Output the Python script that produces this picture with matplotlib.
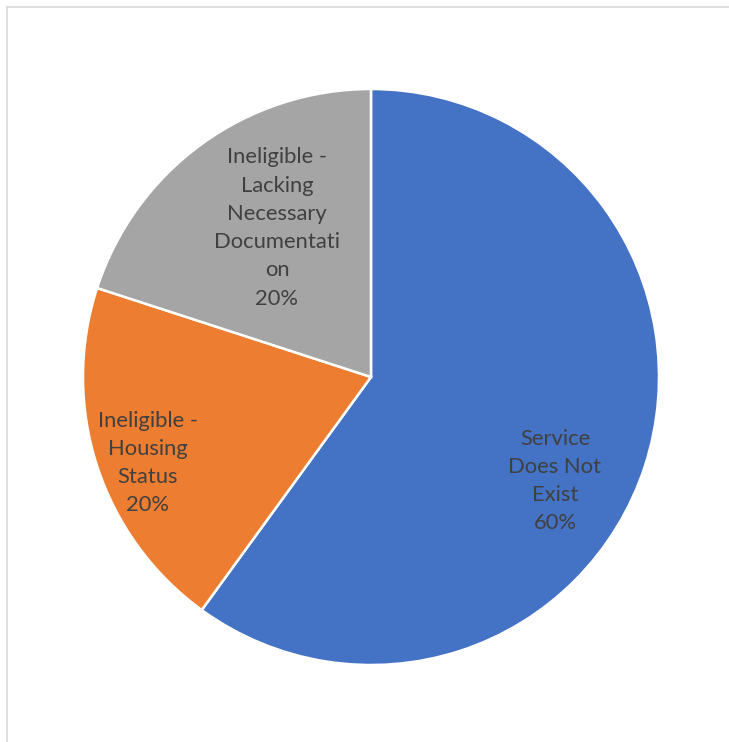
import matplotlib
matplotlib.use("Agg")
import matplotlib.pyplot as plt
from matplotlib.lines import Line2D

categories = ["Service\nDoes Not\nExist", "Ineligible -\nHousing\nStatus",
              "Ineligible -\nLacking\nNecessary\nDocumentati\non"]
values = [60, 20, 20]
colors = ["#4472C4", "#ED7D31", "#A5A5A5"]
# label centres in pixel coords (x, y from top)
label_pos = [(555, 481), (148, 463), (277, 228)]

W, H = 729, 742
fig = plt.figure(figsize=(W / 100, H / 100), dpi=100)
ax = fig.add_axes([0, 0, 1, 1])
cx, cy, r = 371, 377, 288
ax.pie(values, colors=colors, startangle=90, counterclock=False,
       center=(cx, H - cy), radius=r,
       wedgeprops=dict(edgecolor="white", linewidth=1.8))
ax.set_xlim(0, W)
ax.set_ylim(0, H)
ax.set_aspect("auto")
ax.axis("off")

total = sum(values)
for cat, v, (px, py) in zip(categories, values, label_pos):
    ax.text(px, H - py, f"{cat}\n{round(100 * v / total)}%", ha="center", va="center",
            fontsize=15.8, family=["Lato", "DejaVu Sans"], color="#404040",
            linespacing=1.52)

# outer border (top and left visible)
fig.add_artist(Line2D([6.5 / W, 1], [1 - 6.5 / H, 1 - 6.5 / H], transform=fig.transFigure,
                      color="#D9D9D9", lw=1.2))
fig.add_artist(Line2D([6.5 / W, 6.5 / W], [0, 1 - 6.5 / H], transform=fig.transFigure,
                      color="#D9D9D9", lw=1.2))

fig.savefig("out.png", dpi=100, facecolor="white")
